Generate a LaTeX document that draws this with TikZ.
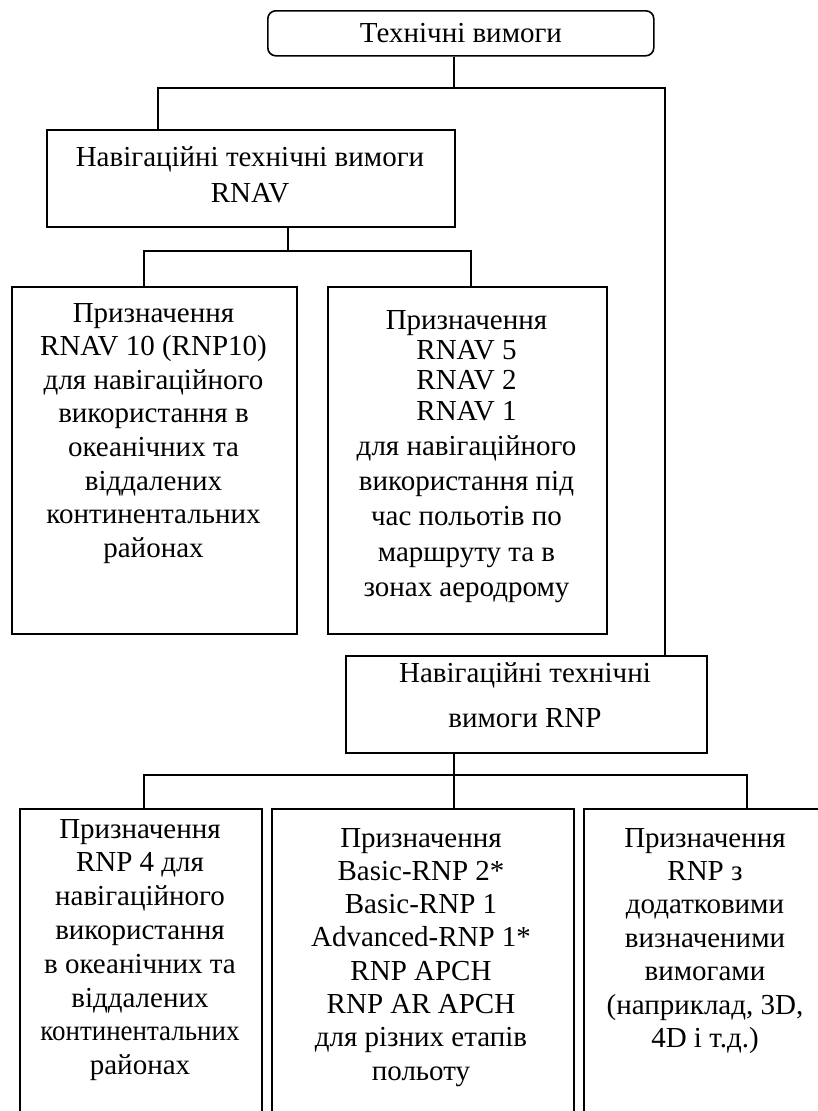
\documentclass[tikz,border=0pt]{standalone}
\usepackage{fontspec}
\setmainfont{Liberation Serif}
\newcommand{\mlines}[1]{\begin{tabular}[t]{@{}c@{}}#1\end{tabular}}
\begin{document}
\begin{tikzpicture}[x=1pt,y=-1pt,
  box/.style={draw,line width=1.6pt,inner sep=0pt,anchor=north west},
  wire/.style={line width=1.8pt},
  txt/.style={anchor=base,inner sep=0pt},
  fs/.style={font=\fontsize{29}{#1}\selectfont}]
\useasboundingbox (0,0) rectangle (817,1111);
% boxes
\node[box,rounded corners=8pt,minimum width=386pt,minimum height=45pt] (top) at (267,10) {};
\node[box,minimum width=408pt,minimum height=97pt] (rnav) at (46,129) {};
\node[box,minimum width=285pt,minimum height=347pt] (b1) at (11,286) {};
\node[box,minimum width=279pt,minimum height=347pt] (b2) at (327,286) {};
\node[box,minimum width=361pt,minimum height=97pt] (rnp) at (345,655) {};
\node[box,minimum width=242pt,minimum height=330pt] (c1) at (19,808) {};
\node[box,minimum width=302pt,minimum height=330pt] (c2) at (271,808) {};
\node[box,minimum width=257pt,minimum height=330pt] (c3) at (583,808) {};
% texts
\node[txt,fs=34] (ttop) at (461,42) {Технічні вимоги};
\node[txt,fs=36] (trnav) at (250,166) {\mlines{Навігаційні технічні вимоги\\RNAV}};
\node[txt,fs=33.6] (tb1) at (153.5,322) {\mlines{Призначення\\RNAV 10 (RNP10)\\для навігаційного\\використання в\\океанічних та\\віддалених\\континентальних\\районах}};
\node[txt,fs=35.2] (tb2) at (466.5,329) {\mlines{Призначення\\[-4.8pt]RNAV 5\\[-4.8pt]RNAV 2\\[-4.8pt]RNAV 1\\для навігаційного\\використання під\\час польотів по\\маршруту та в\\зонах аеродрому}};
\node[txt,fs=45] (trnp) at (525,682) {\mlines{Навігаційні технічні\\вимоги RNP}};
\node[txt,fs=33.8] (tc1) at (140,838) {\mlines{Призначення\\RNP 4 для\\навігаційного\\використання\\в океанічних та\\віддалених\\{\addfontfeature{FakeStretch=0.93}континентальних}\\районах}};
\node[txt,fs=33.3] (tc2) at (421,847) {\mlines{Призначення\\Basic-RNP 2*\\Basic-RNP 1\\Advanced-RNP 1*\\RNP APCH\\RNP AR APCH\\для різних етапів\\польоту}};
\node[txt,fs=33.4] (tc3) at (705,847) {\mlines{Призначення\\RNP з\\додатковими\\визначеними\\вимогами\\(наприклад, 3D,\\4D і т.д.)}};
% junctions
\coordinate (j1) at (454,88);
\coordinate (jl) at (158,88);
\coordinate (jr) at (665,88);
\coordinate (k1) at (288,251);
\coordinate (kl) at (144,251);
\coordinate (kr) at (471,251);
\coordinate (m1) at (454,775);
\coordinate (ml) at (144,775);
\coordinate (mr) at (747,775);
% connectors
\draw[wire] (j1 |- top.south) -- (j1);
\draw[wire] (jl |- rnav.north) -- (jl) -- (jr) -- (jr |- rnp.north);
\draw[wire] (k1 |- rnav.south) -- (k1);
\draw[wire] (kl |- b1.north) -- (kl) -- (kr) -- (kr |- b2.north);
\draw[wire] (m1 |- rnp.south) -- (m1 |- c2.north);
\draw[wire] (ml |- c1.north) -- (ml) -- (mr) -- (mr |- c3.north);
\end{tikzpicture}
\end{document}
